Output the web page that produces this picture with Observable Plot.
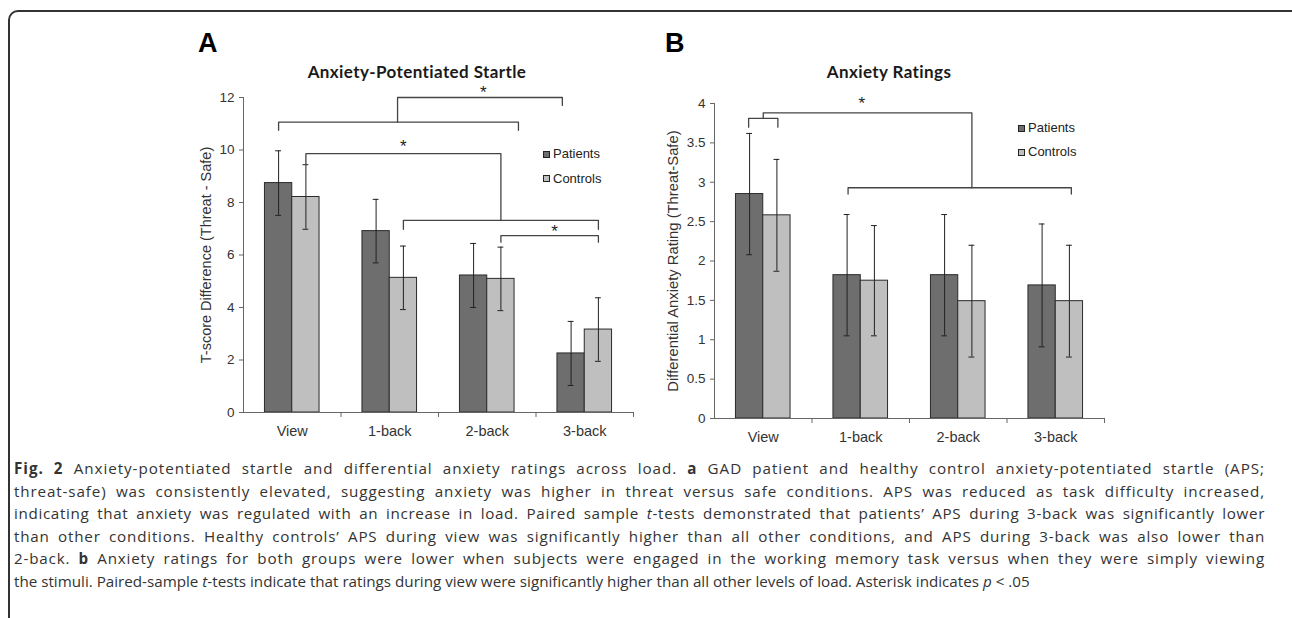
<!DOCTYPE html>
<html><head><meta charset="utf-8">
<script src="https://cdn.jsdelivr.net/npm/d3@7"></script>
<script src="https://cdn.jsdelivr.net/npm/@observablehq/plot@0.6"></script>
<style>
body{margin:0;width:1292px;height:618px;overflow:hidden;background:#fff;position:relative;font-family:"Liberation Sans",Arial,sans-serif;}
#frame{position:absolute;left:8px;top:10px;width:1300px;height:700px;border:2px solid #333;border-radius:10px;box-sizing:border-box;}
.abs{position:absolute;}
.letter{font-weight:bold;font-size:27px;line-height:26px;font-family:"Liberation Sans";color:#000;}
.title{font-family:Lato;font-weight:bold;font-size:17px;letter-spacing:0.4px;line-height:20px;color:#1a1a1a;text-align:center;width:400px;}
.leg{font-family:"Liberation Sans";font-size:13px;line-height:16px;color:#222;display:flex;align-items:center;}
.sw{display:inline-block;width:5px;height:5px;border:1px solid #222;margin-right:3px;}
#cap{left:14px;top:457px;width:1251px;font-family:"Open Sans";font-size:15.2px;color:#333;line-height:22.6px;}
#cap div{text-align:justify;text-align-last:justify;white-space:nowrap;}
#cap div.last{text-align-last:left;}
</style></head>
<body>
<div id="frame"></div>
<div class="abs letter" style="left:198px;top:30px">A</div>
<div class="abs letter" style="left:665px;top:30px">B</div>
<div class="abs title" id="titleA" style="left:217px;top:62px"></div>
<div class="abs title" id="titleB" style="left:689px;top:62px"></div>
<div id="plotA" class="abs" style="left:150px;top:20px"></div>
<div id="plotB" class="abs" style="left:620px;top:20px"></div>
<div id="legA" class="abs" style="left:543px;top:146px"></div>
<div id="legB" class="abs" style="left:1018px;top:120px"></div>
<div id="cap" class="abs">
<div><span><b>Fig. 2</b> Anxiety-potentiated startle and differential anxiety ratings across load. <b>a</b> GAD patient and healthy control anxiety-potentiated startle (APS;</span></div>
<div><span>threat-safe) was consistently elevated, suggesting anxiety was higher in threat versus safe conditions. APS was reduced as task difficulty increased,</span></div>
<div><span>indicating that anxiety was regulated with an increase in load. Paired sample <i>t</i>-tests demonstrated that patients’ APS during 3-back was significantly lower</span></div>
<div><span>than other conditions. Healthy controls’ APS during view was significantly higher than all other conditions, and APS during 3-back was also lower than</span></div>
<div><span>2-back. <b>b</b> Anxiety ratings for both groups were lower when subjects were engaged in the working memory task versus when they were simply viewing</span></div>
<div class="last"><span>the stimuli. Paired-sample <i>t</i>-tests indicate that ratings during view were significantly higher than all other levels of load. Asterisk indicates <i>p</i> &lt; .05</span></div>
</div>
<script>
// ---- data ----
const categories = ["View", "1-back", "2-back", "3-back"];
const groups = ["Patients", "Controls"];

const titleA = "Anxiety-Potentiated Startle";
const yLabelA = "T-score Difference (Threat - Safe)";
const yTicksA = [0, 2, 4, 6, 8, 10, 12];
const apsPatients = [8.74, 6.91, 5.22, 2.25];
const apsPatientsErr = [1.23, 1.21, 1.22, 1.22];
const apsControls = [8.21, 5.13, 5.09, 3.16];
const apsControlsErr = [1.23, 1.21, 1.21, 1.21];
// significance brackets: polylines in (category-position, value) units
const bracketsA = [
  [[1.58, 11.06], [1.58, 12.0], [3.27, 12.0], [3.27, 11.7]],
  [[0.36, 10.75], [0.36, 11.06], [2.82, 11.06], [2.82, 10.75]],
  [[0.64, 9.45], [0.64, 9.86], [2.64, 9.86], [2.64, 7.32]],
  [[1.64, 6.98], [1.64, 7.32], [3.64, 7.32], [3.64, 6.98]],
  [[2.64, 6.49], [2.64, 6.74], [3.64, 6.74], [3.64, 6.49]]
];
const starsA = [[2.46, 12.35], [1.64, 10.27], [3.19, 7.06]];

const titleB = "Anxiety Ratings";
const yLabelB = "Differential Anxiety Rating (Threat-Safe)";
const yTicksB = [0, 0.5, 1, 1.5, 2, 2.5, 3, 3.5, 4];
const ratingPatients = [2.85, 1.82, 1.82, 1.69];
const ratingPatientsErr = [0.77, 0.77, 0.77, 0.78];
const ratingControls = [2.58, 1.75, 1.49, 1.49];
const ratingControlsErr = [0.71, 0.70, 0.71, 0.71];
const bracketsB = [
  [[0.35, 3.70], [0.35, 3.81], [0.65, 3.81], [0.65, 3.70]],
  [[0.5, 3.81], [0.5, 3.88], [2.64, 3.88], [2.64, 2.93]],
  [[1.37, 2.85], [1.37, 2.93], [3.66, 2.93], [3.66, 2.85]]
];
const starsB = [[1.51, 4.05]];

const colors = ["#6e6e6e", "#bfbfbf"];

// ---- build ----
function makeRows(p, pe, c, ce) {
  const rows = [];
  categories.forEach((cat, i) => {
    rows.push({i, cat, group: "Patients", value: p[i], err: pe[i], x1: i + 0.22, x2: i + 0.5});
    rows.push({i, cat, group: "Controls", value: c[i], err: ce[i], x1: i + 0.5, x2: i + 0.78});
  });
  rows.forEach(r => r.cx = (r.x1 + r.x2) / 2);
  return rows;
}
function flatBrackets(br) {
  const out = [];
  br.forEach((pts, id) => pts.forEach(([x, y]) => out.push({id, x, y})));
  return out;
}

function panel(o) {
  const rows = makeRows(...o.series);
  const cap = 0.03;
  return Plot.plot({
    width: o.width, height: o.height,
    marginLeft: o.ml, marginRight: o.mr, marginTop: o.mt, marginBottom: o.mb,
    x: {domain: [0, 4], axis: null, label: null},
    y: {domain: o.yDomain, axis: null, label: null},
    color: {domain: groups, range: colors},
    style: {fontFamily: "Liberation Sans", color: "#333", background: "transparent", overflow: "visible"},
    marks: [
      Plot.rectY(rows, {x1: "x1", x2: "x2", y: "value", fill: "group", stroke: "#2b2b2b", strokeWidth: 1}),
      Plot.ruleX(rows, {x: "cx", y1: d => d.value - d.err, y2: d => d.value + d.err, stroke: "#222", strokeWidth: 1}),
      Plot.ruleY(rows, {y: d => d.value + d.err, x1: d => d.cx - cap, x2: d => d.cx + cap, stroke: "#222", strokeWidth: 1}),
      Plot.ruleY(rows, {y: d => d.value - d.err, x1: d => d.cx - cap, x2: d => d.cx + cap, stroke: "#222", strokeWidth: 1}),
      Plot.ruleX([0], {y1: o.yDomain[0], y2: o.yDomain[1], stroke: "#666", strokeWidth: 1}),
      Plot.ruleY([0], {stroke: "#666", strokeWidth: 1}),
      Plot.axisY({ticks: o.yTicks, tickSize: 4, tickPadding: 5, fontSize: 13.5, stroke: "#666", strokeOpacity: 1, tickFormat: d => String(d), label: null}),
      Plot.axisX({ticks: [1, 2, 3, 4], tickSize: 5, tickFormat: () => "", stroke: "#666", strokeOpacity: 1, label: null}),
      Plot.axisX({ticks: [0.5, 1.5, 2.5, 3.5], tickSize: 0, tickPadding: 13, fontSize: 14.5, tickFormat: d => categories[Math.floor(d)], label: null}),
      Plot.line(flatBrackets(o.brackets), {x: "x", y: "y", z: "id", stroke: "#444", strokeWidth: 1.3}),
      Plot.text(o.stars, {x: d => d[0], y: d => d[1], text: () => "*", fontSize: 17, dy: 4, fill: "#222"}),
      Plot.text([o.yLabel], {frameAnchor: "left", textAnchor: "middle", rotate: -90, dx: o.labelDx, fontSize: o.labelSize, text: d => d, fill: "#333"})
    ]
  });
}

document.getElementById("plotA").append(panel({
  series: [apsPatients, apsPatientsErr, apsControls, apsControlsErr],
  width: 490, height: 440, ml: 93, mr: 7, mt: 77, mb: 48,
  yDomain: [0, 12], yTicks: yTicksA, yLabel: yLabelA, labelDx: -37, labelSize: 14.5,
  brackets: bracketsA, stars: starsA
}));
document.getElementById("plotB").append(panel({
  series: [ratingPatients, ratingPatientsErr, ratingControls, ratingControlsErr],
  width: 490, height: 440, ml: 94, mr: 6, mt: 83, mb: 42,
  yDomain: [0, 4], yTicks: yTicksB, yLabel: yLabelB, labelDx: -41, labelSize: 14.8,
  brackets: bracketsB, stars: starsB
}));
document.getElementById("titleA").textContent = titleA;
document.getElementById("titleB").textContent = titleB;

function legend(el, gap) {
  groups.forEach((g, k) => {
    const row = document.createElement("div");
    row.className = "leg";
    row.style.marginBottom = gap + "px";
    const sw = document.createElement("span");
    sw.className = "sw"; sw.style.background = colors[k];
    row.append(sw, document.createTextNode(g));
    el.append(row);
  });
}
legend(document.getElementById("legA"), 8.5);
legend(document.getElementById("legB"), 8);

// spread justified caption lines partly with letter spacing so word gaps stay natural
function fitCaption() {
  const W = 1251;
  document.querySelectorAll("#cap div:not(.last)").forEach(line => {
    const sp = line.querySelector("span");
    line.style.textAlignLast = "left";
    line.style.textAlign = "left";
    sp.style.letterSpacing = "0px";
    const w = sp.getBoundingClientRect().width;
    const n = sp.textContent.length;
    const slack = W - w;
    if (slack > 0) sp.style.letterSpacing = (slack * 0.6 / n).toFixed(3) + "px";
    line.style.textAlignLast = "";
    line.style.textAlign = "";
  });
}
fitCaption();
if (document.fonts && document.fonts.ready) document.fonts.ready.then(fitCaption);
</script>
</body></html>
